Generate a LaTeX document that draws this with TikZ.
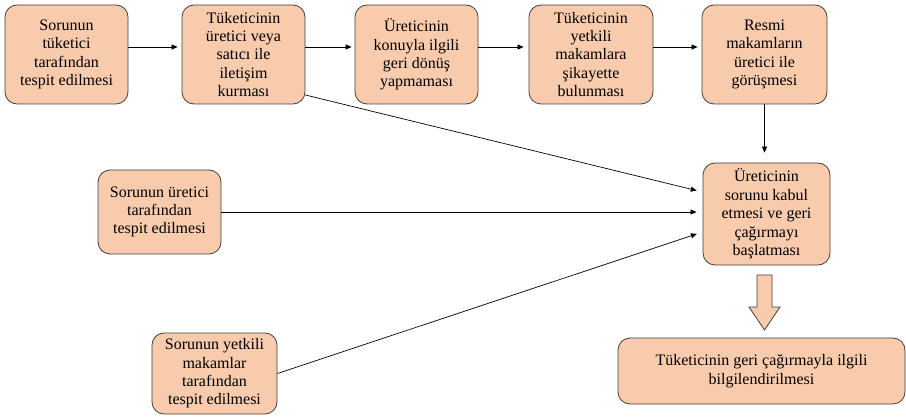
\documentclass[tikz,border=0pt]{standalone}
\usepackage{fontspec}
\setmainfont{Liberation Serif}
\newfontfamily\boxfont{Liberation Serif}
\usetikzlibrary{arrows.meta}
\definecolor{peach}{HTML}{F8CBAD}
\definecolor{edgegray}{HTML}{404040}
\begin{document}
\begin{tikzpicture}[x=1pt,y=-1pt,
  box/.style={draw=edgegray, fill=peach, rounded corners=12pt, line width=0.8pt,
    align=center, font=\boxfont\fontsize{16}{18.4}\selectfont, inner sep=0pt},
  conn/.style={-{Triangle[length=6pt,width=5pt]}, line width=0.7pt, black}]
\useasboundingbox (0,0) rectangle (906,417);
\node[box, minimum width=123pt, minimum height=99pt] (A) at (66.5,54.5)
  {Sorunun\\tüketici\\tarafından\\tespit edilmesi};
\node[box, minimum width=123pt, minimum height=99pt] (B) at (243.5,54.5)
  {Tüketicinin\\üretici veya\\satıcı ile\\iletişim\\kurması};
\node[box, minimum width=123pt, minimum height=99pt] (C) at (416.5,54.5)
  {Üreticinin\\konuyla ilgili\\geri dönüş\\yapmaması};
\node[box, minimum width=124pt, minimum height=99pt] (D) at (591,54.5)
  {Tüketicinin\\yetkili\\makamlara\\şikayette\\bulunması};
\node[box, minimum width=125pt, minimum height=99pt] (E) at (764.5,54.5)
  {Resmi\\makamların\\üretici ile\\görüşmesi};
\node[box, minimum width=127pt, minimum height=102pt] (F) at (766.5,214)
  {Üreticinin\\sorunu kabul\\etmesi ve geri\\çağırmayı\\başlatması};
\node[box, minimum width=123pt, minimum height=84pt] (G) at (159.5,212)
  {Sorunun üretici\\tarafından\\tespit edilmesi};
\node[box, minimum width=125pt, minimum height=81pt] (H) at (214.5,373.5)
  {Sorunun yetkili\\makamlar\\tarafından\\tespit edilmesi};
\node[box, minimum width=287pt, minimum height=66pt] (I) at (761.5,371)
  {Tüketicinin geri çağırmayla ilgili\\bilgilendirilmesi};

\draw[conn, shorten >=4pt] ([yshift=7.5pt]A.east) -- ([yshift=7.5pt]B.west);
\draw[conn, shorten >=3pt] ([yshift=7.5pt]B.east) -- ([yshift=7.5pt]C.west);
\draw[conn, shorten >=5pt] ([yshift=7.5pt]C.east) -- ([yshift=7.5pt]D.west);
\draw[conn, shorten >=4pt] ([yshift=7.5pt]D.east) -- ([yshift=7.5pt]E.west);
\draw[conn, shorten >=10pt] (E.south) -- (E.south |- F.north);
\draw[conn, shorten >=6pt] ([yshift=-40.5pt]B.east) -- ([yshift=22pt]F.west);
\draw[conn, shorten >=6pt] (G.east) -- (F.west |- G.east);
\draw[conn, shorten >=6pt] (H.east) -- ([yshift=-18pt]F.west);

\draw[draw=edgegray, fill=peach, line width=0.8pt]
  (757,275) -- (772,275) -- (772,307) -- (780,307) -- (764.5,330)
  -- (749,307) -- (757,307) -- cycle;
\end{tikzpicture}
\end{document}
